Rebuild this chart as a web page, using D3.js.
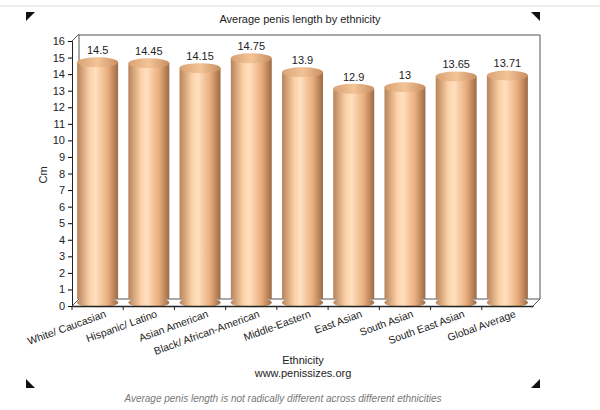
<!DOCTYPE html>
<html><head><meta charset="utf-8">
<script src="https://cdn.jsdelivr.net/npm/d3@7"></script>
<style>body{margin:0;background:#fff}text{font-family:Arial,"Liberation Sans",sans-serif}</style>
</head><body>
<svg id="c" width="600" height="410"></svg>
<script>
// data
var categories = ["White/ Caucasian","Hispanic/ Latino","Asian American","Black/ African-American","Middle-Eastern","East Asian","South Asian","South East Asian","Global Average"];
var values = [14.5,14.45,14.15,14.75,13.9,12.9,13,13.65,13.71];
var valueLabels = ["14.5","14.45","14.15","14.75","13.9","12.9","13","13.65","13.71"];
var yTicks = d3.range(0,17);

var svg = d3.select("#c");
var defs = svg.append("defs");
var g1 = defs.append("linearGradient").attr("id","cyl");
[["0%","#b7835a"],["30%","#fbd0a6"],["45%","#ffe0c0"],["75%","#e9ad7c"],["100%","#9c6a43"]].forEach(function(s){
  g1.append("stop").attr("offset",s[0]).attr("stop-color",s[1]);
});
var g2 = defs.append("linearGradient").attr("id","topc");
[["0%","#d9a274"],["50%","#f3c497"],["100%","#c98e60"]].forEach(function(s){
  g2.append("stop").attr("offset",s[0]).attr("stop-color",s[1]);
});

svg.append("line").attr("x1",0).attr("x2",600).attr("y1",6).attr("y2",6).attr("stroke","#ddd");
// corner marks
function corner(x,y,dx,dy){
  svg.append("path").attr("d","M"+x+","+y+"l"+(dx*9)+",0l"+(-dx*9)+","+(dy*9)+"z").attr("fill","#111");
}
corner(26,12,1,1);corner(540,12,-1,1);
svg.append("path").attr("d","M26,388l9,0l-9,-9z").attr("fill","#111");
svg.append("path").attr("d","M540,388l-9,0l9,-9z").attr("fill","#111");

var L=72, R=533, B=306, T=41, d=7;
var x = d3.scaleBand().domain(categories).range([L,R]).paddingInner(0.2).paddingOuter(0.1);
var y = d3.scaleLinear().domain([0,16]).range([B,T]);

// back wall and floor
svg.append("path").attr("d","M"+(L+d)+","+(y(16)-d+1)+"L"+(R+d)+","+(y(16)-d+1)+"L"+(R+d)+","+(B-d)+"L"+(L+d)+","+(B-d)+"Z")
  .attr("fill","none").attr("stroke","#555");
svg.append("path").attr("d","M"+L+","+B+"L"+(L+d)+","+(B-d)+"M"+R+","+B+"L"+(R+d)+","+(B-d))
  .attr("stroke","#555").attr("fill","none");
svg.append("path").attr("d","M"+L+","+T+"L"+(L+d)+","+(T-d))
  .attr("stroke","#555");

// bars
var bars = svg.append("g").selectAll("g").data(values).enter().append("g");
var ry = 5;
bars.append("rect").attr("x",function(v,i){return x(categories[i]);})
  .attr("y",function(v){return y(v)-d/2;}).attr("width",x.bandwidth())
  .attr("height",function(v){return B-d/2-y(v);}).attr("fill","url(#cyl)");
bars.append("ellipse").attr("cx",function(v,i){return x(categories[i])+x.bandwidth()/2;})
  .attr("cy",function(v){return B-d/2;}).attr("rx",x.bandwidth()/2).attr("ry",ry).attr("fill","url(#cyl)");
bars.append("ellipse").attr("cx",function(v,i){return x(categories[i])+x.bandwidth()/2;})
  .attr("cy",function(v){return y(v)-d/2;}).attr("rx",x.bandwidth()/2).attr("ry",ry).attr("fill","url(#topc)");
bars.append("text").attr("x",function(v,i){return x(categories[i])+x.bandwidth()/2;})
  .attr("y",function(v){return y(v)-d/2-ry-3;}).attr("text-anchor","middle")
  .attr("font-size",11).attr("fill","#222").text(function(v,i){return valueLabels[i];});

// axes
var ya = svg.append("g").attr("transform","translate("+L+",0)")
  .call(d3.axisLeft(y).tickValues(yTicks).tickSize(4).tickFormat(d3.format("d")));
ya.selectAll("text").attr("font-size",11).attr("fill","#222");
ya.select(".domain").attr("stroke","#222");
var xa = svg.append("g").attr("transform","translate(0,"+B+")")
  .call(d3.axisBottom(x).tickSize(0));
xa.select(".domain").attr("stroke","#222").attr("stroke-width",1.5);
xa.selectAll(".tick line").remove();
xa.selectAll(".tick").each(function(c){
  var t=d3.select(this);
  t.append("line").attr("x1",-x.bandwidth()/2-x.step()*0.1).attr("x2",-x.bandwidth()/2-x.step()*0.1).attr("y1",0).attr("y2",4).attr("stroke","#222");
});
xa.selectAll("text").attr("font-size",10.5).attr("fill","#222")
  .attr("text-anchor","end").attr("dy",0)
  .attr("transform","translate(8,8) rotate(-20)");

svg.append("text").attr("x",300).attr("y",23).attr("text-anchor","middle").attr("font-size",11).attr("fill","#222").text("Average penis length by ethnicity");
svg.append("text").attr("transform","translate(47,175) rotate(-90)").attr("text-anchor","middle").attr("font-size",11).attr("fill","#222").text("Cm");
svg.append("text").attr("x",303).attr("y",364).attr("text-anchor","middle").attr("font-size",11).attr("fill","#222").text("Ethnicity");
svg.append("text").attr("x",303).attr("y",377).attr("text-anchor","middle").attr("font-size",11).attr("fill","#222").text("www.penissizes.org");
svg.append("text").attr("x",283).attr("y",402).attr("text-anchor","middle").attr("font-size",10).attr("font-style","italic").attr("fill","#777").text("Average penis length is not radically different across different ethnicities");
</script>
</body></html>
